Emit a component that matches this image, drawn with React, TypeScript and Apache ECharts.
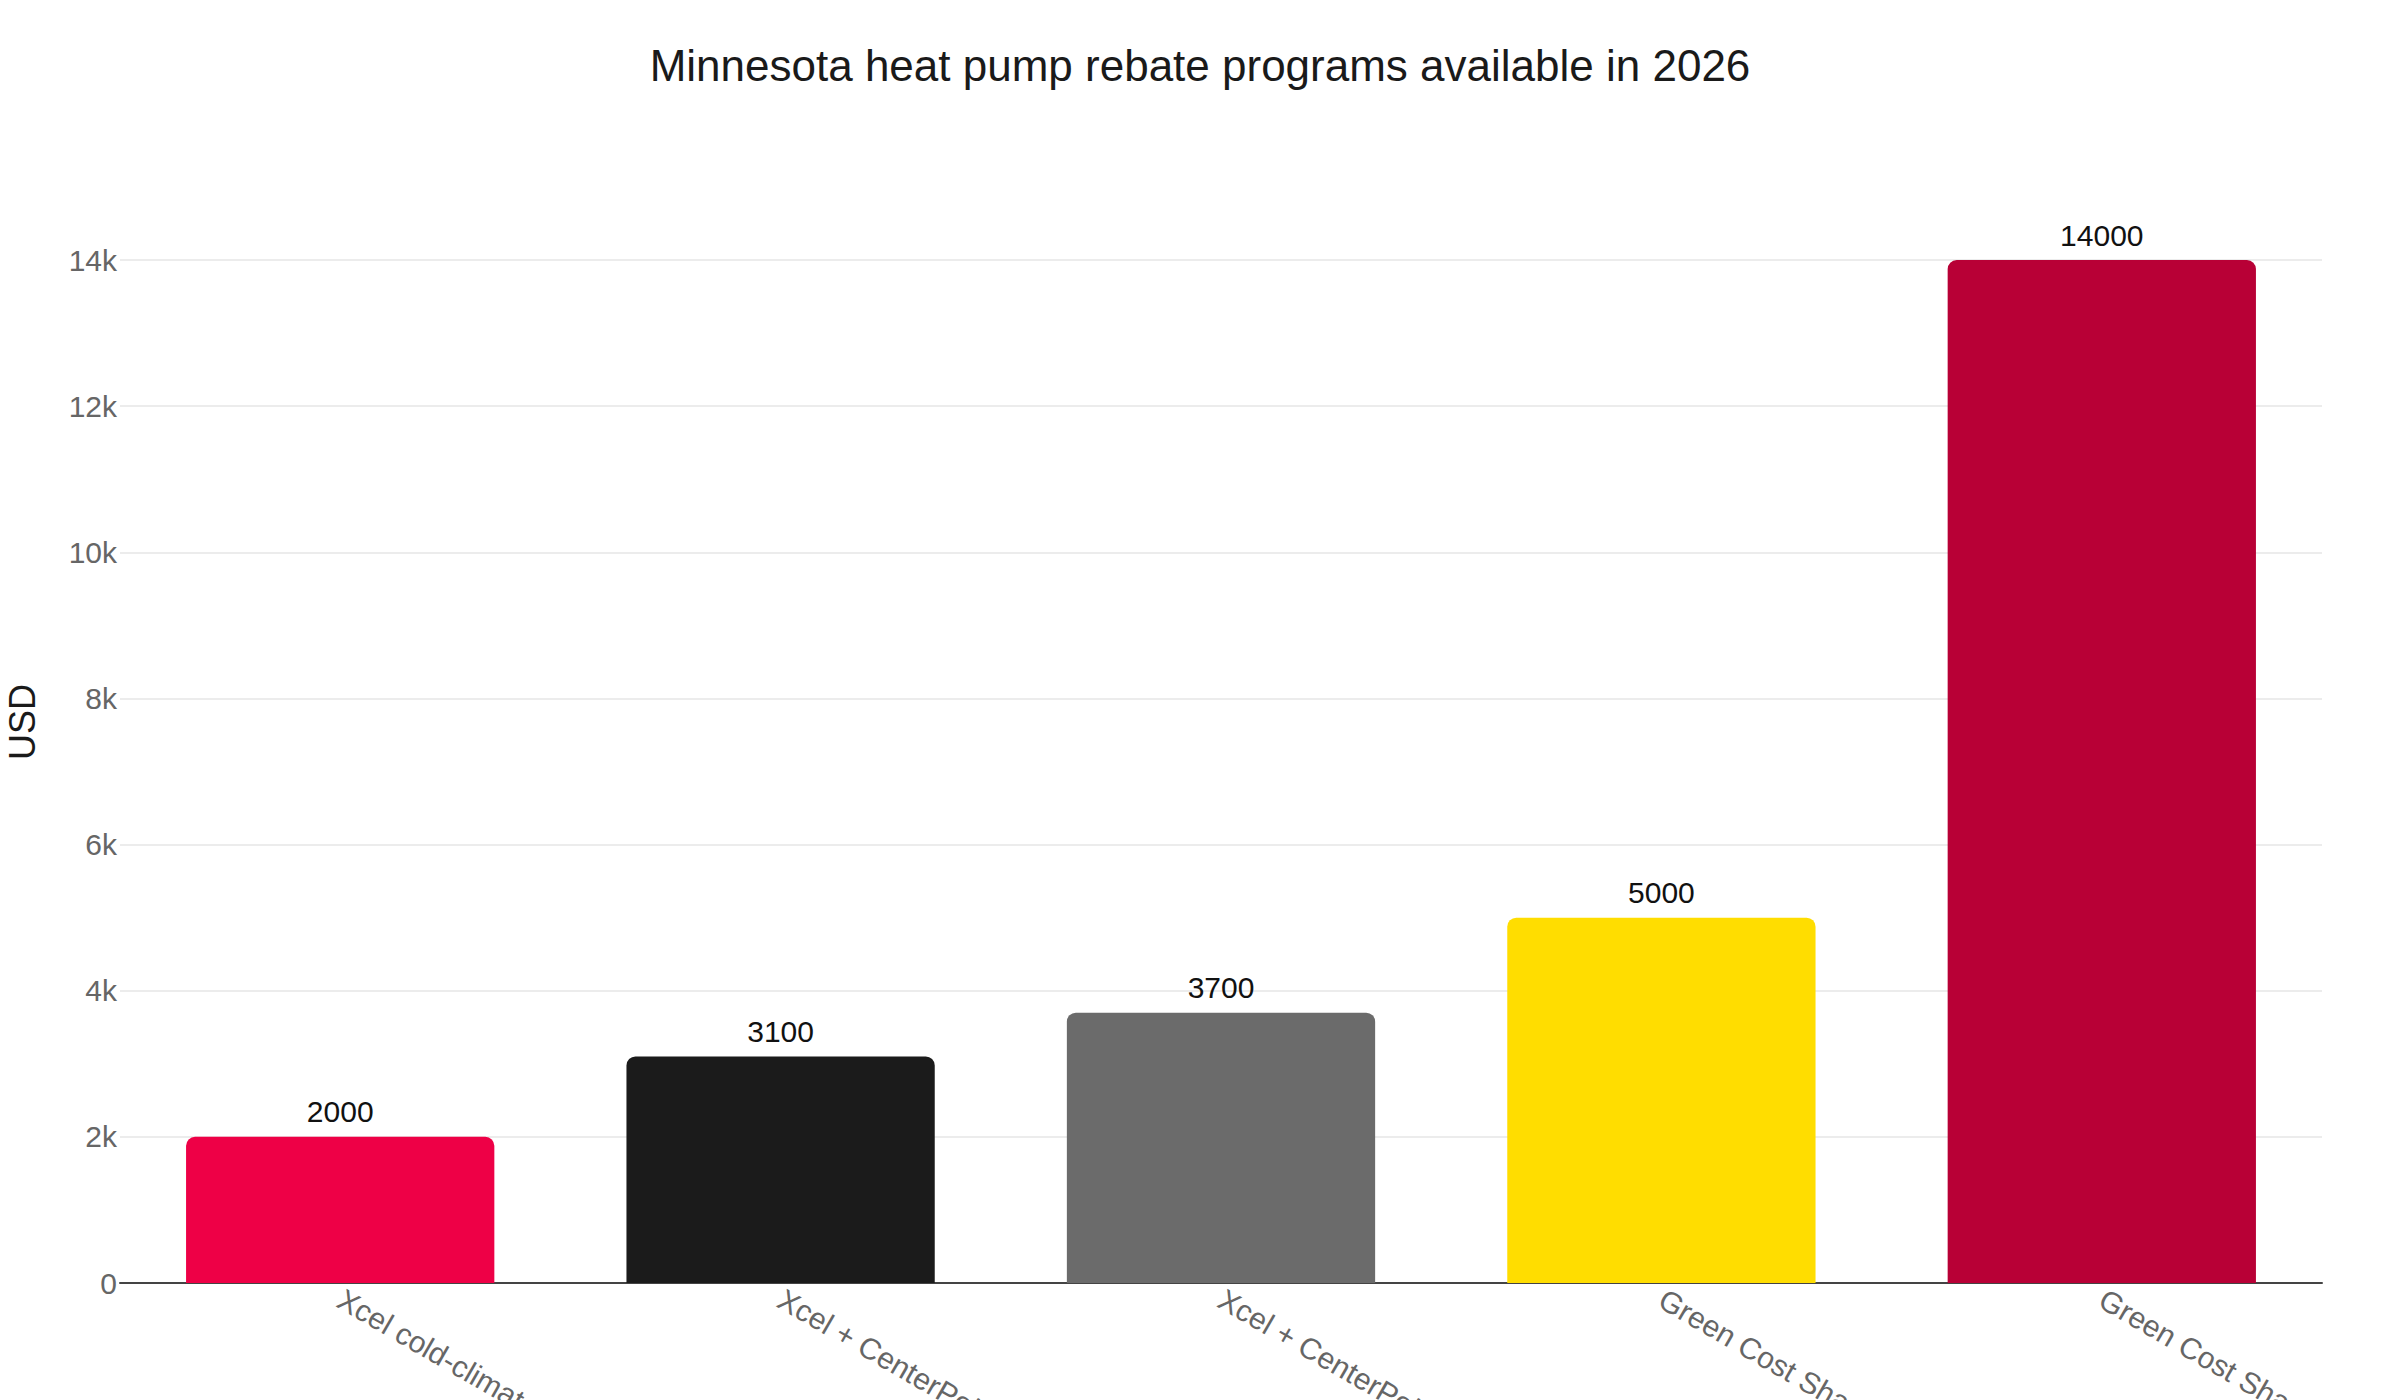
import React, { useEffect, useRef } from "react";
import * as echarts from "echarts";

const FONT = "'Liberation Sans', Arial, Helvetica, sans-serif";

// data
const programs = [
  "Xcel cold-climate heat pump rebate",
  "Xcel + CenterPoint ducted heat pump",
  "Xcel + CenterPoint ductless heat pump",
  "Green Cost Share (moderate income)",
  "Green Cost Share (low income)",
];
const rebates = [2000, 3100, 3700, 5000, 14000];
const barColors = ["#EE0046", "#1B1B1B", "#6B6B6B", "#FFDD00", "#B80036"];
const yTicks = [0, 2000, 4000, 6000, 8000, 10000, 12000, 14000];

const RebateChart: React.FC = () => {
  const chartRef = useRef<HTMLDivElement>(null);

  useEffect(() => {
    let myChart: echarts.ECharts | null = null;

    if (chartRef.current) {
      myChart = echarts.init(chartRef.current, null, { renderer: "svg" });
      myChart.setOption({
        animation: false,
        backgroundColor: "#ffffff",
        title: {
          text: "Minnesota heat pump rebate programs available in 2026",
          left: "center",
          top: 38,
          textStyle: {
            color: "#1a1a1a",
            fontFamily: FONT,
            fontSize: 44,
            fontWeight: "normal",
          },
        },
        graphic: [
          {
            type: "text",
            x: 22,
            y: 722,
            rotation: Math.PI / 2,
            style: {
              text: "USD",
              fill: "#1a1a1a",
              font: `36px ${FONT}`,
              align: "center",
              verticalAlign: "middle",
            },
          },
        ],
        grid: {
          left: 120,
          right: 78,
          top: 260,
          bottom: 117,
          containLabel: false,
          outerBoundsMode: "none",
        },
        xAxis: {
          type: "category",
          data: programs,
          axisLine: { show: true, lineStyle: { color: "#444444", width: 2 } },
          axisTick: { show: false },
          axisLabel: {
            rotate: -30,
            margin: 14,
            color: "#666666",
            fontFamily: FONT,
            fontSize: 30,
            interval: 0,
          },
        },
        yAxis: {
          type: "value",
          min: yTicks[0],
          max: yTicks[yTicks.length - 1],
          interval: 2000,
          axisLine: { show: false },
          axisTick: { show: false },
          splitLine: { lineStyle: { color: "#e6e6e6", width: 1.5 } },
          axisLabel: {
            margin: 3,
            color: "#666666",
            fontFamily: FONT,
            fontSize: 30,
            formatter: (v: number) => (v === 0 ? "0" : `${v / 1000}k`),
          },
        },
        series: [
          {
            type: "bar",
            barWidth: "70%",
            data: rebates.map((value, i) => ({
              value,
              itemStyle: { color: barColors[i], borderRadius: [9, 9, 0, 0] },
            })),
            label: {
              show: true,
              position: "top",
              distance: 10,
              color: "#111111",
              fontFamily: FONT,
              fontSize: 30,
            },
          },
        ],
      });
    }

    return () => {
      if (myChart !== null) {
        myChart.dispose();
      }
    };
  }, []);

  return (
    <div
      ref={chartRef}
      style={{ position: "fixed", left: 0, top: 0, width: 2400, height: 1400 }}
    />
  );
};

export default function App() {
  return <RebateChart />;
}
